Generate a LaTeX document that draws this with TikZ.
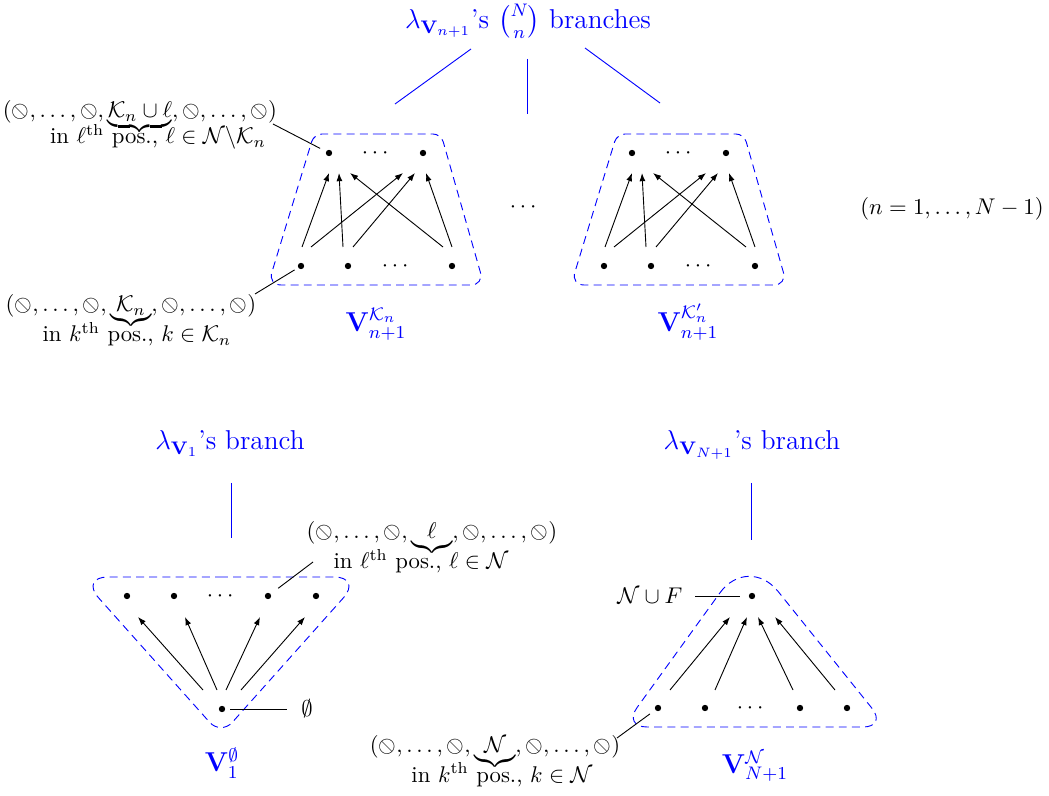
\documentclass[tikz,border=0pt]{standalone}
\usepackage{amsmath,amssymb,stmaryrd}
\usetikzlibrary{calc,arrows.meta}
\newcommand{\ob}{\obslash}
\tikzset{
  vtx/.style={circle,fill=black,inner sep=0pt,minimum size=2.8pt},
  hull/.style={draw=blue,dash pattern=on 3.5pt off 2.3pt},
  arr/.style={-{Latex[length=3.6pt,width=2.6pt]}},
  bluelab/.style={text=blue,font=\large,inner sep=0pt,anchor=base},
  tup/.style={inner sep=0pt,anchor=base},
  dotsn/.style={inner sep=0pt},
}
\newcommand{\trapcluster}[2]{%
\begin{scope}[shift={(#2,0)}]
  \node[vtx] (#1t1) at (329,153) {};
  \node[dotsn] (#1td) at (377,153) {$\cdots$};
  \node[vtx] (#1t2) at (423,153) {};
  \node[vtx] (#1b1) at (301,266) {};
  \node[vtx] (#1b2) at (348,266) {};
  \node[dotsn] (#1bd) at (397,266) {$\cdots$};
  \node[vtx] (#1b4) at (452,266) {};
  \draw[arr] ($(#1b1)+(1,-19)$) -- ($(#1t1)+(0,20)$);
  \draw[arr] ($(#1b1)+(10,-19)$) -- ($(#1t2)+(-20,20)$);
  \draw[arr] ($(#1b2)+(-5,-19)$) -- ($(#1t1)+(10,20)$);
  \draw[arr] ($(#1b2)+(5,-19)$) -- ($(#1t2)+(-8,20)$);
  \draw[arr] ($(#1b4)+(-9,-19)$) -- ($(#1t1)+(21,20)$);
  \draw[arr] ($(#1b4)+(0,-19)$) -- ($(#1t2)+(3,20)$);
  \draw[hull] (378,134) -- (433,134) .. controls (437.42,134) and (441.98,137.44) .. (443.19,141.69)
    -- (480.44,272.50) .. controls (482.41,279.40) and (478.18,285) .. (471,285)
    -- (281,285) .. controls (273.82,285) and (269.70,279.43) .. (271.79,272.56)
    -- (311.67,141.65) .. controls (312.96,137.42) and (317.58,134) .. (322,134) -- cycle;
\end{scope}}
\begin{document}
\begin{tikzpicture}[x=0.44pt,y=-0.44pt]
\useasboundingbox (0,0) rectangle (1049,796);

% ---------- top part ----------
\node[bluelab] (toplab) at (528,29) {$\lambda_{\mathbf{V}_{n+1}}$'s $\binom{N}{n}$ branches};
\coordinate (l1a) at (471,49); \coordinate (l1b) at (395,104);
\coordinate (l2a) at (527,59); \coordinate (l2b) at (527,114);
\coordinate (l3a) at (585,48); \coordinate (l3b) at (660,103);
\draw[blue] (l1a) -- (l1b);
\draw[blue] (l2a) -- (l2b);
\draw[blue] (l3a) -- (l3b);

\trapcluster{A}{0}
\trapcluster{B}{303}

\node[dotsn] (middots) at (525,207) {$\cdots$};
\node[tup] (nrange) at (952,215) {$(n=1,\ldots,N-1)$};

\node[bluelab] (VA) at (376,332) {$\mathbf{V}^{\mathcal{K}_n}_{n+1}$};
\node[bluelab] (VB) at (688,332) {$\mathbf{V}^{\mathcal{K}'_n}_{n+1}$};

\node[tup] (tupA) at (140,118) {$(\ob,\ldots,\ob,\underbrace{\smash[b]{\mathcal{K}_n\cup\ell}},\ob,\ldots,\ob)$};
\node[tup] (subA) at (158,144) {in $\ell^{\text{th}}$ pos., $\ell\in\mathcal{N}\backslash\mathcal{K}_n$};
\coordinate (cA) at (273,124);
\draw[shorten >=2.8pt] (cA) -- (At1);

\node[tup] (tupB) at (131,312) {$(\ob,\ldots,\ob,\underbrace{\smash[b]{\mathcal{K}_n}},\ob,\ldots,\ob)$};
\node[tup] (subB) at (137,342) {in $k^{\text{th}}$ pos., $k\in\mathcal{K}_n$};
\coordinate (cB) at (255,294);
\draw[shorten >=1.7pt] (cB) -- (Ab1);

% ---------- bottom left ----------
\node[bluelab] (labL) at (230,450) {$\lambda_{\mathbf{V}_1}$'s branch};
\coordinate (lLa) at (231,483); \coordinate (lLb) at (231,538);
\draw[blue] (lLa) -- (lLb);

\node[vtx] (Lt1) at (127,596) {};
\node[vtx] (Lt2) at (174,596) {};
\node[dotsn] (Ltd) at (222,596) {$\cdots$};
\node[vtx] (Lt3) at (268,596) {};
\node[vtx] (Lt4) at (316,596) {};
\node[vtx] (Lb) at (222,709) {};
\draw[arr] ($(Lb)+(-19,-19)$) -- ($(Lt1)+(11,21)$);
\draw[arr] ($(Lb)+(-5,-19)$) -- ($(Lt2)+(11,21)$);
\draw[arr] ($(Lb)+(4,-19)$) -- ($(Lt3)+(-8,21)$);
\draw[arr] ($(Lb)+(19,-19)$) -- ($(Lt4)+(-11,21)$);
\draw[hull] (220,577) -- (334,577) .. controls (349.46,577) and (353.66,586.35) .. (343.36,597.89)
  -- (232.32,722.32) .. controls (226.07,729.32) and (215.93,729.32) .. (209.68,722.32)
  -- (98.64,597.89) .. controls (88.34,586.35) and (92.54,577) .. (108,577) -- cycle;

\node[inner sep=0pt] (es) at (307,709) {$\emptyset$};
\draw[shorten <=2.1pt,shorten >=5.9pt] (Lb) -- (es);

\node[tup] (tupC) at (432,539) {$(\ob,\ldots,\ob,\underbrace{\ell},\ob,\ldots,\ob)$};
\node[tup] (subC) at (421,569) {in $\ell^{\text{th}}$ pos., $\ell\in\mathcal{N}$};
\coordinate (cC) at (313,562);
\draw[shorten >=4pt] (cC) -- (Lt3);

\node[bluelab] (VL) at (222,772) {$\mathbf{V}^{\emptyset}_1$};

% ---------- bottom right ----------
\node[bluelab] (labR) at (752,450) {$\lambda_{\mathbf{V}_{N+1}}$'s branch};
\coordinate (lRa) at (751,483); \coordinate (lRb) at (751,540);
\draw[blue] (lRa) -- (lRb);

\node[vtx] (Rt) at (752,596) {};
\node[vtx] (Rb1) at (658,708) {};
\node[vtx] (Rb2) at (705,708) {};
\node[dotsn] (Rbd) at (752,708) {$\cdots$};
\node[vtx] (Rb3) at (800,708) {};
\node[vtx] (Rb4) at (847,708) {};
\draw[arr] ($(Rb1)+(12,-18)$) -- ($(Rt)+(-22,21)$);
\draw[arr] ($(Rb2)+(10,-18)$) -- ($(Rt)+(-5,21)$);
\draw[arr] ($(Rb3)+(-7,-18)$) -- ($(Rt)+(6,21)$);
\draw[arr] ($(Rb4)+(-12,-18)$) -- ($(Rt)+(23,21)$);
\draw[hull] (719.89,592.91) .. controls (735.42,571.42) and (761.46,570.75) .. (778.06,591.42)
  -- (871.97,708.29) .. controls (880.27,718.62) and (876.26,727) .. (863,727)
  -- (647,727) .. controls (633.74,727) and (629.30,718.29) .. (637.06,707.55) -- cycle;

\node[inner sep=0pt] (NF) at (650,596) {$\mathcal{N}\cup F$};
\coordinate (cNF) at (695,596);
\draw[shorten >=3.9pt] (cNF) -- (Rt);

\node[tup] (tupD) at (495,753) {$(\ob,\ldots,\ob,\underbrace{\mathcal{N}},\ob,\ldots,\ob)$};
\node[tup] (subD) at (502,782) {in $k^{\text{th}}$ pos., $k\in\mathcal{N}$};
\coordinate (cD) at (617,738);
\draw[shorten >=2.8pt] (cD) -- (Rb1);

\node[bluelab] (VR) at (755,773) {$\mathbf{V}^{\mathcal{N}}_{N+1}$};
\end{tikzpicture}
\end{document}
